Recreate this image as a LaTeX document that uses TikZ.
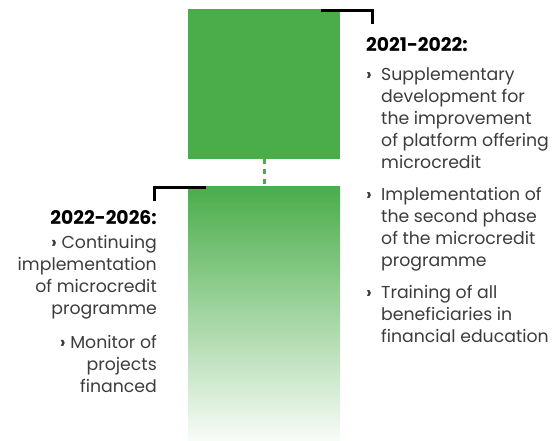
\documentclass[tikz,border=0pt]{standalone}
\usepackage{fontspec}
\setmainfont{Poppins}
\definecolor{grn}{RGB}{74,173,74}
\definecolor{txt}{RGB}{60,60,60}
\begin{document}
\begin{tikzpicture}[x=1pt,y=-1pt,
  body/.style={inner sep=0pt, font=\fontsize{17.3}{22}\selectfont, text=txt},
  head/.style={inner sep=0pt, font=\fontsize{18.8}{20}\selectfont\bfseries, text=black},
  bul/.style={inner sep=0pt, font=\fontsize{17}{20}\selectfont\bfseries, text=txt},
  bracket/.style={line width=3pt, black},
  dots/.style={line width=3pt, grn, dash pattern=on 5pt off 5pt},
]
\useasboundingbox (0,0) rectangle (559,440);
% bars
\node[fill=grn, inner sep=0pt, minimum width=152pt, minimum height=149.5pt, anchor=north west] (top) at (188,9) {};
\node[top color=grn, bottom color=grn!4, inner sep=0pt, minimum width=152pt, minimum height=254pt, anchor=north west] (bot) at (188,186) {};
\draw[dots] (top.south) -- (bot.north);
% brackets
\coordinate (tr1) at (321,10.5);
\coordinate (tr2) at (372,24);
\draw[bracket] (tr1) -| (tr2);
\coordinate (bl1) at (206,187.5);
\coordinate (bl2) at (154,201);
\draw[bracket] (bl1) -| (bl2);
% right text (base anchor = last line baseline)
\node[head, anchor=base west] (h1) at (366,51) {2021-2022:};
\node[bul, anchor=base west] (b1) at (366,80) {›};
\node[body, anchor=base west, align=left] (r1) at (381,168) {Supplementary\\development for\\the improvement\\of platform offering\\microcredit};
\node[bul, anchor=base west] (b2) at (366,200) {›};
\node[body, anchor=base west, align=left] (r2) at (381,266) {Implementation of\\the second phase\\of the microcredit\\programme};
\node[bul, anchor=base west] (b3) at (366,298) {›};
\node[body, anchor=base west, align=left] (r3) at (381,342) {Training of all\\beneficiaries in\\financial education};
% left text
\node[head, anchor=base east] (h2) at (157,224) {2022-2026:};
\node[body, anchor=base east, align=right] (l1) at (157,314) {{\bfseries ›} Continuing\\implementation\\of microcredit\\programme};
\node[body, anchor=base east, align=right] (l2) at (157,392) {{\bfseries ›} Monitor of\\projects\\financed};
\end{tikzpicture}
\end{document}
